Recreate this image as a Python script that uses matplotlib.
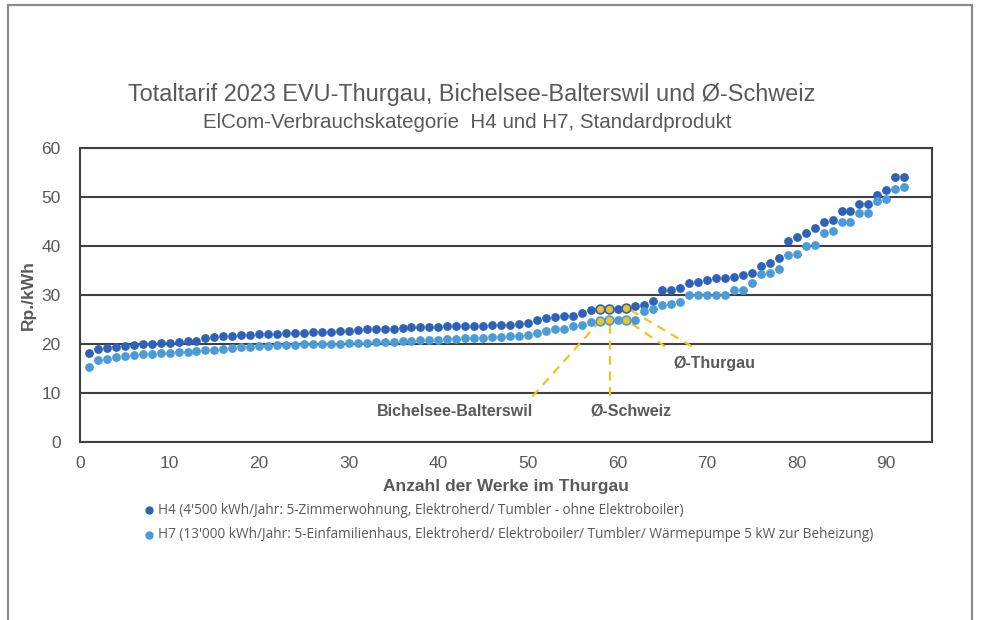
import matplotlib
matplotlib.use("Agg")
import matplotlib.pyplot as plt
from matplotlib.patches import Rectangle
from matplotlib.lines import Line2D

# ---------------- data ----------------
werke = list(range(1, 93))
h4 = [18.2, 19.0, 19.1, 19.3, 19.5, 19.7, 19.9, 20.0, 20.2, 20.3,
      20.4, 20.6, 20.6, 21.3, 21.5, 21.6, 21.7, 21.8, 21.9, 22.0,
      22.0, 22.1, 22.2, 22.2, 22.3, 22.4, 22.4, 22.5, 22.6, 22.7,
      22.9, 23.0, 23.0, 23.0, 23.1, 23.3, 23.4, 23.4, 23.5, 23.5,
      23.6, 23.6, 23.7, 23.7, 23.7, 23.8, 23.8, 23.9, 24.0, 24.2,
      24.8, 25.3, 25.5, 25.7, 25.7, 26.3, 26.9, 27.1, 27.1, 27.1,
      27.4, 27.8, 27.9, 28.8, 31.0, 31.1, 31.5, 32.4, 32.6, 33.0,
      33.4, 33.4, 33.6, 34.1, 34.4, 36.0, 36.5, 37.5, 41.1, 41.8,
      42.6, 43.7, 44.8, 45.4, 47.1, 47.1, 48.5, 48.5, 50.5, 51.4,
      54.0, 54.0]
h7 = [15.4, 16.8, 17.0, 17.3, 17.5, 17.7, 17.9, 18.0, 18.1, 18.2,
      18.3, 18.4, 18.6, 18.7, 18.8, 18.9, 19.1, 19.3, 19.4, 19.5,
      19.6, 19.7, 19.7, 19.8, 19.9, 19.9, 20.0, 20.0, 20.1, 20.2,
      20.3, 20.3, 20.4, 20.4, 20.5, 20.6, 20.7, 20.8, 20.9, 20.9,
      21.0, 21.1, 21.2, 21.3, 21.3, 21.4, 21.5, 21.6, 21.7, 21.8,
      22.3, 22.7, 23.0, 23.1, 23.7, 23.9, 24.4, 24.6, 24.8, 24.8,
      24.9, 24.9, 26.8, 27.1, 28.0, 28.1, 28.5, 30.0, 30.0, 30.1,
      30.1, 30.1, 31.0, 31.1, 32.4, 34.3, 34.4, 35.3, 38.2, 38.4,
      39.9, 40.2, 42.7, 43.1, 44.8, 44.8, 46.7, 46.7, 49.2, 49.6,
      51.6, 52.1]

highlight_idx = {"Bichelsee-Balterswil": 58, "Ø-Schweiz": 59, "Ø-Thurgau": 61}

title = "Totaltarif 2023 EVU-Thurgau, Bichelsee-Balterswil und Ø-Schweiz"
subtitle = "ElCom-Verbrauchskategorie  H4 und H7, Standardprodukt"
xlabel = "Anzahl der Werke im Thurgau"
ylabel = "Rp./kWh"
legend_h4 = "H4 (4'500 kWh/Jahr: 5-Zimmerwohnung, Elektroherd/ Tumbler - ohne Elektroboiler)"
legend_h7 = "H7 (13'000 kWh/Jahr: 5-Einfamilienhaus, Elektroherd/ Elektroboiler/ Tumbler/ Wärmepumpe 5 kW zur Beheizung)"
xticks = [0, 10, 20, 30, 40, 50, 60, 70, 80, 90]
yticks = [0, 10, 20, 30, 40, 50, 60]

# ---------------- style ----------------
c_h4 = "#2E62B8"
c_h7 = "#4A9BD6"
c_yel = "#F2C21E"
c_txt = "#595959"
c_grid = "#404040"

plt.rcParams["font.family"] = ["Liberation Sans", "DejaVu Sans"]

fig = plt.figure(figsize=(9.81, 6.2), dpi=100)
fig.patches.append(Rectangle((8 / 981, -0.05), 964 / 981, 1.0 - 5 / 620 + 0.05,
                             transform=fig.transFigure, fill=False,
                             edgecolor="#8a8a8a", linewidth=1.6))

ax = fig.add_axes([80 / 981, 1 - 442 / 620, (932 - 80) / 981, (442 - 148) / 620])
ax.set_xlim(0, 95.1)
ax.set_ylim(0, 60)
ax.set_xticks(xticks)
ax.set_yticks(yticks)
ax.tick_params(axis="y", length=0, labelsize=12.5, colors=c_txt, pad=14)
ax.tick_params(axis="x", length=0, labelsize=12.5, colors=c_txt, pad=10)
for s in ax.spines.values():
    s.set_color(c_grid)
    s.set_linewidth(1.5)
ax.yaxis.grid(True, color=c_grid, linewidth=1.5)
ax.set_axisbelow(True)

ax.scatter(werke, h4, s=40, color=c_h4, zorder=3, linewidths=0)
ax.scatter(werke, h7, s=40, color=c_h7, zorder=3, linewidths=0)

# highlighted points
for name, w in highlight_idx.items():
    i = werke.index(w)
    ax.scatter([w], [h4[i]], s=40, color=c_yel, edgecolors=c_h4, linewidths=1.2, zorder=4)
    ax.scatter([w], [h7[i]], s=40, color=c_yel, edgecolors=c_h7, linewidths=1.2, zorder=4)

# annotation lines
i58 = werke.index(58)
i59 = werke.index(59)
i61 = werke.index(61)
ls = dict(color=c_yel, linestyle=(0, (4, 3)), linewidth=1.6, zorder=2)
ax.plot([50.5, 58], [9.3, h7[i58]], **ls)
ax.plot([59.2, 59.2], [9.3, h7[i59]], **ls)
ax.plot([65.3, 61], [19.5, h7[i61]], **ls)
ax.plot([68.3, 61], [19.5, h4[i61]], **ls)

tk = dict(color=c_txt, fontsize=11.5, fontweight="bold", ha="center", va="center")
ax.text(41.9, 6.3, "Bichelsee-Balterswil", **tk)
ax.text(61.5, 6.3, "Ø-Schweiz", **tk)
ax.text(70.8, 16.1, "Ø-Thurgau", **tk)

ax.set_xlabel(xlabel, fontsize=12.5, fontweight="bold", color=c_txt, labelpad=6)
ax.set_ylabel(ylabel, fontsize=12.5, fontweight="bold", color=c_txt, labelpad=4)

fig.text(472 / 981, 1 - 95 / 620, title, fontsize=16.9, color=c_txt, ha="center", va="center")
fig.text(467 / 981, 1 - 122 / 620, subtitle, fontsize=14.8, color=c_txt, ha="center", va="center")

# legend
fam = ["Open Sans", "DejaVu Sans"]
for yy, col, lab in [(510, c_h4, legend_h4), (535, c_h7, legend_h7)]:
    fig.add_artist(Line2D([149 / 981], [1 - yy / 620], marker="o", markersize=5,
                          color=col, linestyle="none", transform=fig.transFigure))
    fig.text(158 / 981, 1 - yy / 620, lab, fontsize=9.8, color=c_txt, ha="left",
             va="center", family=fam)

fig.savefig("out.png", dpi=100)
